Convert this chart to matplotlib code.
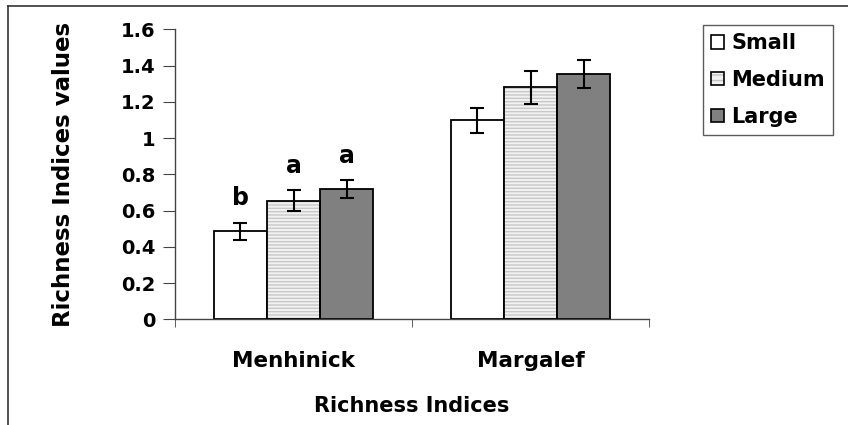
import numpy as np
import matplotlib
matplotlib.use('Agg')
import matplotlib.pyplot as plt
from matplotlib.patches import Patch
from matplotlib.lines import Line2D

plt.rcParams['font.family'] = ['DejaVu Sans']
plt.rcParams['font.weight'] = 'bold'

# data
indices = ['Menhinick', 'Margalef']
sizes = ['Small', 'Medium', 'Large']
small_vals = [0.485, 1.098]
medium_vals = [0.653, 1.28]
large_vals = [0.717, 1.353]
small_err = [0.047, 0.069]
medium_err = [0.058, 0.092]
large_err = [0.050, 0.078]
letters_small = ['b', '']
letters_medium = ['a', '']
letters_large = ['a', '']

fig = plt.figure(figsize=(8.48, 4.25), dpi=100)
ax = fig.add_axes([175 / 848, 1 - 319.3 / 425, (649 - 175) / 848, 290 / 425])

x = np.arange(1, len(indices) + 1)
w = 0.224
axis_col = '#444444'

vals = [small_vals, medium_vals, large_vals]
errs = [small_err, medium_err, large_err]
letters = [letters_small, letters_medium, letters_large]
handles = []
for i, s in enumerate(sizes):
    xs = x + (i - 1) * w
    if s == 'Small':
        ax.bar(xs, vals[i], w, color='white', edgecolor='black', linewidth=1.3, zorder=2)
        h = Patch(facecolor='white', edgecolor='black', linewidth=1.2)
    elif s == 'Medium':
        # hatched stripes first, then a black outline on top
        ax.bar(xs, vals[i], w, color='#f2f2f2', edgecolor='#c8c8c8', hatch='-----',
               linewidth=0, zorder=2)
        ax.bar(xs, vals[i], w, fill=False, edgecolor='black', linewidth=1.3, zorder=3)
        h = (Patch(facecolor='#f2f2f2', edgecolor='#c4c4c4', hatch='---', linewidth=0),
             Patch(fill=False, edgecolor='black', linewidth=1.2))
    else:
        ax.bar(xs, vals[i], w, color='#808080', edgecolor='black', linewidth=1.3, zorder=2)
        h = Patch(facecolor='#808080', edgecolor='black', linewidth=1.2)
    handles.append(h)
    ax.errorbar(xs, vals[i], yerr=errs[i], fmt='none', ecolor='black',
                elinewidth=1.5, capsize=5, capthick=1.5, zorder=4)
    for xx, v, e, t in zip(xs, vals[i], errs[i], letters[i]):
        if t:
            ax.annotate(t, (xx, v + e), xytext=(0, 9), textcoords='offset points',
                        ha='center', va='bottom', fontsize=17, fontweight='bold')

ax.set_xlim(0.5, 2.5)
ax.set_ylim(0, 1.6)
ax.set_yticks(np.arange(0, 1.61, 0.2))
ax.set_yticklabels(['0', '0.2', '0.4', '0.6', '0.8', '1', '1.2', '1.4', '1.6'])
ax.set_xticks(x)
ax.set_xticklabels(indices)
ax.set_xticks([0.5, 1.5, 2.5], minor=True)
ax.tick_params(axis='x', which='major', length=0, pad=23, labelsize=15.5)
ax.tick_params(axis='x', which='minor', length=6, direction='out', color=axis_col)
ax.tick_params(axis='y', length=9, direction='out', color=axis_col, labelsize=14, pad=5)

for sp in ['top', 'right']:
    ax.spines[sp].set_visible(False)
for sp in ['left', 'bottom']:
    ax.spines[sp].set_color(axis_col)
    ax.spines[sp].set_linewidth(1.0)

ax.set_ylabel('Richness Indices values', fontsize=16.5, fontweight='bold', labelpad=33)
ax.set_xlabel('Richness Indices', fontsize=15, fontweight='bold', labelpad=18)

leg = fig.legend(handles, sizes, loc='upper left',
                 bbox_to_anchor=(702.7 / 848, 1 - 25 / 425),
                 prop={'size': 15, 'weight': 'bold'}, frameon=True, fancybox=False,
                 handlelength=0.62, handleheight=0.62, handletextpad=0.35,
                 labelspacing=0.8, borderpad=0.4, borderaxespad=0)
leg.get_frame().set_edgecolor('#333333')
leg.get_frame().set_linewidth(1.0)

# figure frame (left and top edges)
fig.add_artist(Line2D([8 / 848, 8 / 848], [0, 1 - 6 / 425], color='#333333', lw=1.2))
fig.add_artist(Line2D([8 / 848, 1], [1 - 6 / 425, 1 - 6 / 425], color='#333333', lw=1.2))

fig.savefig('out.png', dpi=100)
